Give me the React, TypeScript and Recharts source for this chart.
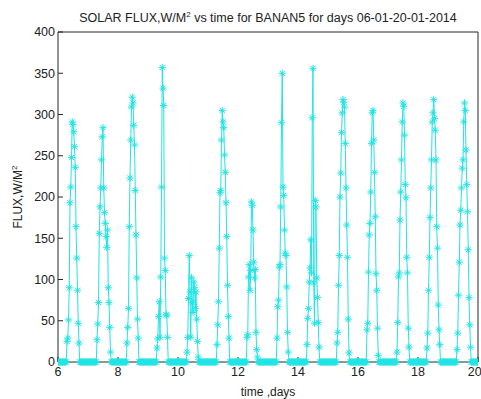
import React from "react";
import { LineChart, Line, XAxis, YAxis } from "recharts";

// Daytime solar flux readings (W/m²) per day, sampled every 36 minutes from sunrise.
const day6 = [25, 29, 51, 90, 193, 212, 248, 291, 288, 279, 261, 236, 164, 126, 87, 47, 23];
const day7 = [27, 46, 72, 156, 188, 211, 245, 273, 284, 211, 181, 168, 152, 139, 160, 90, 72, 42, 12];
const day8 = [23, 42, 65, 164, 223, 269, 309, 321, 314, 287, 263, 208, 154, 102, 52, 29];
const day9 = [17, 28, 55, 73, 30, 103, 212, 357, 332, 311, 126, 111, 57, 57, 30];
const day10 = [12, 30, 77, 129, 85, 30, 102, 72, 60, 97, 90, 65, 85, 52, 25, 6];
const day11 = [21, 45, 73, 138, 205, 208, 269, 305, 291, 284, 251, 230, 193, 152, 93, 55, 29];
const day12 = [30, 33, 103, 118, 87, 111, 194, 190, 160, 121, 102, 112, 36, 15, 6];
const day13 = [29, 67, 75, 115, 118, 188, 290, 350, 212, 202, 160, 132, 129, 91, 36, 12];
const day14 = [21, 53, 65, 97, 114, 148, 108, 296, 356, 96, 47, 196, 188, 102, 78, 48, 18];
const day15 = [23, 36, 93, 129, 200, 229, 278, 302, 318, 315, 309, 265, 211, 166, 127, 52, 11];
const day16 = [39, 47, 109, 154, 168, 206, 265, 302, 305, 269, 230, 176, 107, 87, 41, 8];
const day17 = [12, 48, 103, 108, 172, 206, 245, 291, 314, 310, 275, 215, 199, 127, 108, 41, 18];
const day18 = [17, 35, 87, 127, 175, 211, 245, 291, 302, 318, 295, 281, 245, 164, 138, 69, 39, 21];
const day19 = [15, 35, 81, 121, 166, 184, 211, 235, 245, 291, 314, 305, 257, 215, 182, 136, 78, 45, 18];

const days = [6, 7, 8, 9, 10, 11, 12, 13, 14, 15, 16, 17, 18, 19];
const daytime = [day6, day7, day8, day9, day10, day11, day12, day13, day14, day15, day16, day17, day18, day19];
const xTicks = [6, 8, 10, 12, 14, 16, 18, 20];
const yTicks = [0, 50, 100, 150, 200, 250, 300, 350, 400];

const SAMPLES_PER_DAY = 40;
const SUNRISE_SAMPLE = 12;

// Full time series: zero flux at night, daytime readings in between.
const series: { t: number; flux: number }[] = [];
days.forEach((d, i) => {
  const vals = daytime[i];
  for (let s = 0; s < SAMPLES_PER_DAY; s++) {
    const k = s - SUNRISE_SAMPLE;
    const flux = k >= 0 && k < vals.length ? vals[k] : 0;
    series.push({ t: d + s / SAMPLES_PER_DAY, flux });
  }
});
series.push({ t: 20, flux: 0 });

const CYAN = "#22e4e4";
const AXIS = "#262626";
const FONT = "'Liberation Sans', Arial, sans-serif";

const Asterisk = (props: any) => {
  const { cx, cy, index } = props;
  if (cx == null || cy == null) return <g key={index} />;
  const r = 3.6;
  const d = r * 0.72;
  return (
    <g key={index} stroke={CYAN} strokeWidth={1} fill="none">
      <line x1={cx - r} y1={cy} x2={cx + r} y2={cy} />
      <line x1={cx} y1={cy - r} x2={cx} y2={cy + r} />
      <line x1={cx - d} y1={cy - d} x2={cx + d} y2={cy + d} />
      <line x1={cx - d} y1={cy + d} x2={cx + d} y2={cy - d} />
    </g>
  );
};

const YLabel = (props: any) => {
  const vb = props.viewBox || {};
  const cy = (vb.y ?? 32) + (vb.height ?? 330) / 2;
  const x = 22;
  return (
    <text
      x={x}
      y={cy}
      transform={`rotate(-90, ${x}, ${cy})`}
      textAnchor="middle"
      fontFamily={FONT}
      fontSize={12}
      fill="#222"
    >
      FLUX,W/M<tspan dy={-5} fontSize={8}>2</tspan>
    </text>
  );
};

export default function App() {
  return (
    <div style={{ position: "absolute", left: 0, top: 0, width: 481, height: 399, background: "#fff" }}>
      <div
        style={{
          position: "absolute",
          left: 58,
          width: 420,
          top: 10,
          textAlign: "center",
          fontFamily: FONT,
          fontSize: 12.5,
          color: "#222",
          whiteSpace: "nowrap",
          lineHeight: "16px",
        }}
      >
        SOLAR FLUX,W/M<sup style={{ fontSize: 8, verticalAlign: "5px", lineHeight: 0 }}>2</sup> vs time for BANAN5 for days 06-01-20-01-2014
      </div>
      <LineChart
        width={481}
        height={399}
        data={series}
        margin={{ top: 31, right: 2, bottom: 0, left: 0 }}
        style={{ position: "absolute", left: 0, top: 0 }}
      >
        <XAxis
          xAxisId="bottom"
          dataKey="t"
          type="number"
          domain={[6, 20]}
          ticks={xTicks}
          allowDataOverflow
          height={37}
          stroke={AXIS}
          tickSize={-5}
          tickMargin={10}
          tick={{ fill: "#222", fontSize: 12.5, fontFamily: FONT }}
          label={{ value: "time ,days", position: "insideBottom", offset: 3, fill: "#222", fontSize: 12, fontFamily: FONT }}
        />
        <XAxis
          xAxisId="top"
          dataKey="t"
          type="number"
          orientation="top"
          domain={[6, 20]}
          ticks={xTicks}
          allowDataOverflow
          height={1}
          stroke={AXIS}
          tickSize={-5}
          tick={false}
        />
        <YAxis
          yAxisId="left"
          type="number"
          domain={[0, 400]}
          ticks={yTicks}
          width={58}
          stroke={AXIS}
          tickSize={-5}
          tickMargin={8}
          tick={{ fill: "#222", fontSize: 12.5, fontFamily: FONT }}
          label={<YLabel />}
        />
        <YAxis
          yAxisId="right"
          orientation="right"
          type="number"
          domain={[0, 400]}
          ticks={yTicks}
          width={1}
          stroke={AXIS}
          tickSize={-5}
          tick={false}
        />
        <Line
          xAxisId="bottom"
          yAxisId="left"
          type="linear"
          dataKey="flux"
          stroke={CYAN}
          strokeWidth={1}
          dot={Asterisk}
          activeDot={false}
          isAnimationActive={false}
        />
      </LineChart>
    </div>
  );
}
